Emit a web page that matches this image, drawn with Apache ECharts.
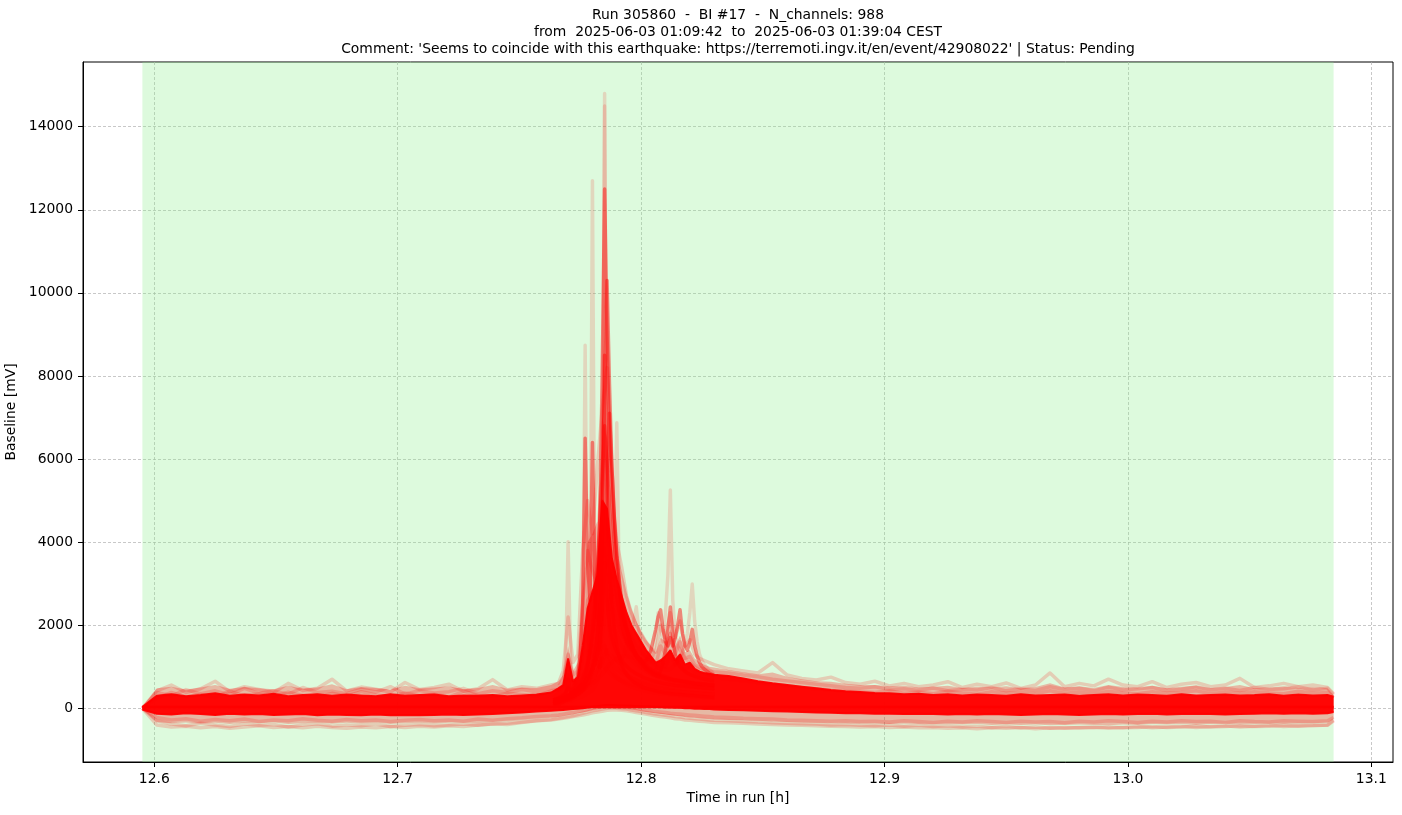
<!DOCTYPE html>
<html>
<head>
<meta charset="utf-8">
<title>Run 305860 - BI #17 - baseline</title>
<script src="https://cdn.jsdelivr.net/npm/echarts@6.0.0/dist/echarts.min.js"></script>
<style>
  html, body { margin: 0; padding: 0; background: #fff; }
  #chart { width: 1402px; height: 815px; }
</style>
</head>
<body>
<div id="chart"></div>
<script>
// time axis (hours in run) shared by the bulk band and the fringe channels
var hours = [
  12.5951, 12.601, 12.607, 12.613, 12.619, 12.625, 12.631, 12.637, 12.643, 12.649,
  12.655, 12.661, 12.667, 12.673, 12.679, 12.685, 12.691, 12.697, 12.703, 12.709,
  12.715, 12.721, 12.727, 12.733, 12.739, 12.745, 12.751, 12.757, 12.763,
  12.766, 12.768, 12.770, 12.772, 12.774, 12.776, 12.778, 12.780, 12.782, 12.784,
  12.786, 12.788, 12.790, 12.792, 12.794, 12.796, 12.798, 12.800, 12.802, 12.804,
  12.806, 12.808, 12.810, 12.812, 12.814, 12.816, 12.818, 12.820, 12.822, 12.824,
  12.826, 12.828, 12.830,
  12.836, 12.842, 12.848, 12.854, 12.860, 12.866, 12.872, 12.878, 12.884, 12.890,
  12.896, 12.902, 12.908, 12.914, 12.920, 12.926, 12.932, 12.938, 12.944, 12.950,
  12.956, 12.962, 12.968, 12.974, 12.980, 12.986, 12.992, 12.998, 13.004, 13.010,
  13.016, 13.022, 13.028, 13.034, 13.040, 13.046, 13.052, 13.058, 13.064, 13.070,
  13.076, 13.082, 13.0845
];

// fine time axis around the earthquake burst
var spikeHours = [
  12.764, 12.765, 12.766, 12.767, 12.768, 12.769, 12.770, 12.771, 12.772, 12.773,
  12.774, 12.775, 12.776, 12.777, 12.778, 12.779, 12.780, 12.781, 12.782, 12.783,
  12.784, 12.785, 12.786, 12.787, 12.788, 12.789, 12.790, 12.791, 12.792, 12.793,
  12.794, 12.795, 12.796, 12.797, 12.798, 12.799, 12.800, 12.801, 12.802, 12.803,
  12.804, 12.805, 12.806, 12.807, 12.808, 12.809, 12.810, 12.811, 12.812, 12.813,
  12.814, 12.815, 12.816, 12.817, 12.818, 12.819, 12.820, 12.821, 12.822, 12.823,
  12.824, 12.825, 12.826, 12.827, 12.828, 12.829, 12.830
];

// dense core of the 988 channels: lower / upper edge [mV]
var coreLow = [
  -30, -130, -150, -120, -140, -160, -130, -150, -140, -160,
  -150, -140, -170, -150, -160, -170, -150, -170, -160, -170,
  -160, -150, -160, -150, -140, -120, -100, -80, -60,
  -50, -40, -30, -20, -10, 0, 20, 40, 50, 70,
  80, 80, 70, 70, 60, 60, 50, 50, 40, 40,
  30, 30, 20, 20, 10, 10, 0, 0, -10, -10,
  -20, -20, -30,
  -40, -50, -60, -70, -80, -90, -100, -110, -120, -120,
  -130, -130, -140, -130, -140, -150, -140, -150, -140, -150,
  -160, -150, -140, -150, -160, -150, -140, -150, -140, -130,
  -150, -140, -130, -140, -150, -140, -130, -120, -130, -120,
  -130, -120, -90
];
var coreHigh = [
  30, 300, 340, 290, 320, 360, 300, 330, 310, 350,
  290, 320, 340, 300, 330, 310, 290, 340, 300, 320,
  330, 290, 310, 300, 320, 290, 310, 330, 380,
  480, 560, 1200, 650, 750, 1500, 2400, 2800, 3200, 5000,
  4800, 3600, 3100, 2700, 2300, 2000, 1800, 1600, 1400, 1250,
  1100, 1150, 1250, 1400, 1150, 1300, 1050, 1100, 950, 880,
  850, 830, 810,
  780, 720, 650, 600, 560, 520, 480, 440, 410, 390,
  370, 360, 340, 350, 320, 340, 310, 330, 320, 300,
  340, 310, 320, 330, 300, 320, 340, 310, 330, 320,
  300, 340, 310, 320, 330, 310, 320, 340, 300, 330,
  310, 320, 280
];

// light halo made by the less dense channels: outer edges [mV]
var haloHigh = [
  30, 480, 520, 450, 500, 560, 470, 510, 480, 460, 540,
  470, 500, 580, 460, 510, 490, 450, 540, 480, 500,
  530, 460, 490, 560, 470, 500, 490, 560,
  650, 800, 1500, 900, 1100, 2800, 4000, 4200, 4500, 7000,
  6500, 4800, 3800, 3300, 2800, 2400, 2100, 1850, 1650, 1500,
  1350, 1700, 1600, 1900, 1500, 1750, 1350, 1400, 1200, 1100,
  1050, 1000, 980,
  920, 870, 820, 860, 760, 700, 650, 640, 590, 560,
  560, 530, 540, 500, 520, 540, 490, 520, 500, 530,
  480, 510, 600, 500, 530, 490, 560, 510, 490, 540,
  480, 520, 540, 490, 510, 560, 480, 500, 530, 490,
  510, 480, 320
];
var haloLow = [
  -30, -330, -360, -340, -370, -350, -380, -350, -360, -340, -380,
  -360, -340, -370, -350, -370, -340, -380, -360, -350, -370,
  -350, -340, -360, -330, -320, -290, -260, -230,
  -210, -190, -170, -150, -120, -100, -70, -40, -20, 0,
  20, 20, 10, 0, -10, -30, -50, -70, -90, -110,
  -120, -140, -150, -170, -180, -190, -210, -220, -230, -240,
  -250, -260, -270,
  -280, -290, -300, -320, -330, -340, -350, -360, -360, -370,
  -370, -380, -370, -380, -390, -380, -390, -380, -400, -390,
  -400, -390, -410, -400, -390, -400, -410, -390, -400, -380,
  -390, -380, -400, -380, -370, -390, -380, -370, -380, -370,
  -360, -350, -250
];

// single channels at the outside of the halo
var fringeUp1 = [0,
  420, 560, 380, 470, 650, 400, 520, 450, 380, 600,
  430, 480, 700, 420, 510, 460, 390, 620, 450, 500,
  580, 410, 470, 690, 440, 520, 480, 560,
  600, 900, 2200, 1100, 1300, 3800, 5000, 4200, 5800, 7200,
  8200, 5200, 4000, 3400, 2700, 2300, 2000, 1800, 1600, 1450,
  1350, 2000, 1700, 2300, 1700, 2100, 1500, 1650, 1300, 1200,
  1150, 1100, 1050,
  950, 900, 850, 1100, 800, 720, 680, 750, 620, 580,
  650, 540, 600, 520, 560, 640, 500, 580, 520, 610,
  480, 560, 850, 520, 600, 540, 700, 560, 520, 640,
  500, 580, 620, 520, 560, 720, 500, 540, 600, 520,
  560, 500, 350
];
var fringeUp2 = [0,
  380, 300, 450, 350, 420, 330, 480, 360, 420, 340,
  500, 380, 410, 350, 460, 390, 520, 340, 430, 370,
  400, 480, 350, 420, 380, 450, 400, 470,
  520, 700, 1300, 800, 900, 2600, 3800, 3300, 3000, 5000,
  4500, 3000, 2500, 2200, 1900, 1700, 1500, 1350, 1250, 1150,
  1050, 1500, 1300, 1800, 1300, 1600, 1200, 1250, 1050, 980,
  940, 900, 880,
  850, 800, 760, 700, 660, 620, 580, 540, 500, 480,
  520, 450, 470, 430, 490, 420, 460, 440, 500, 420,
  470, 430, 520, 450, 480, 420, 510, 440, 470, 500,
  430, 460, 520, 440, 480, 430, 500, 450, 470, 520,
  440, 480, 320
];
var fringeUp3 = [0,
  250, 380, 280, 330, 260, 420, 300, 350, 280, 390,
  310, 270, 360, 290, 400, 320, 280, 370, 300, 340,
  270, 410, 310, 290, 360, 330, 300, 420,
  450, 520, 800, 600, 700, 1500, 2600, 2800, 2400, 4000,
  3500, 2600, 2100, 1800, 1600, 1400, 1250, 1150, 1050, 950,
  900, 1150, 1000, 1300, 1050, 1200, 950, 1000, 880, 820,
  780, 760, 740,
  700, 660, 620, 580, 540, 500, 470, 440, 420, 400,
  380, 420, 360, 390, 350, 410, 370, 340, 400, 360,
  380, 350, 420, 360, 390, 340, 410, 370, 350, 400,
  360, 380, 420, 350, 390, 360, 400, 370, 350, 410,
  360, 380, 260
];
var fringeLow1 = [0,
  -300, -380, -420, -360, -400, -440, -380, -410, -390, -450,
  -400, -370, -430, -400, -420, -380, -440, -410, -390, -420,
  -400, -380, -410, -370, -390, -340, -300, -270,
  -240, -220, -200, -180, -150, -120, -90, -60, -40, -20,
  0, 10, 0, -10, -20, -40, -60, -80, -100, -120,
  -140, -150, -170, -180, -200, -210, -230, -240, -250, -260,
  -270, -280, -290,
  -300, -320, -330, -350, -360, -370, -380, -400, -390, -410,
  -420, -400, -430, -410, -440, -420, -450, -430, -460, -440,
  -470, -450, -480, -460, -470, -450, -480, -460, -440, -470,
  -450, -430, -460, -440, -420, -450, -430, -410, -440, -420,
  -400, -410, -300
];
var fringeLow2 = [0,
  -220, -280, -250, -310, -270, -300, -260, -320, -280, -300,
  -250, -290, -310, -270, -300, -280, -320, -290, -270, -300,
  -280, -310, -260, -290, -250, -230, -200, -180,
  -160, -140, -120, -100, -80, -60, -40, -20, 0, 20,
  40, 40, 30, 20, 10, 0, -10, -30, -50, -60,
  -80, -90, -100, -120, -130, -140, -150, -160, -170, -180,
  -190, -200, -210,
  -220, -240, -250, -260, -280, -290, -300, -310, -300, -320,
  -310, -330, -300, -320, -340, -310, -330, -300, -320, -340,
  -310, -330, -320, -350, -310, -330, -300, -320, -340, -310,
  -330, -300, -320, -310, -340, -300, -320, -330, -300, -310,
  -320, -300, -220
];
var fringeLow3 = [0,
  -400, -450, -430, -470, -440, -480, -450, -420, -460, -440,
  -470, -430, -460, -480, -450, -470, -440, -460, -430, -450,
  -420, -440, -400, -380, -360, -330, -300, -280,
  -260, -240, -220, -200, -180, -160, -140, -110, -90, -70,
  -50, -40, -40, -50, -60, -80, -100, -120, -140, -160,
  -180, -200, -210, -230, -250, -260, -280, -290, -300, -310,
  -320, -330, -340,
  -350, -360, -380, -390, -400, -410, -420, -430, -440, -450,
  -440, -460, -450, -470, -460, -480, -470, -490, -470, -480,
  -460, -490, -470, -480, -460, -470, -450, -470, -460, -440,
  -460, -450, -430, -450, -440, -420, -440, -430, -410, -430,
  -420, -400, -280
];

// isolated channels with large excursions (on spikeHours)
var spikeA = [
  200, 220, 180, 240, 210, 260, 250, 280, 300, 320,
  350, 380, 420, 460, 500, 560, 650, 800, 1000, 1400,
  3500, 14800, 4200, 2600,
  2100, 1900, 1750, 1600, 1500, 1400, 1320, 1250, 1180, 1120,
  1060, 1010, 970, 930, 900, 870, 840, 810, 790, 770,
  750, 730, 710, 700, 690, 670, 660, 650, 640, 630,
  620, 610, 600, 590, 580, 575, 570, 560, 555, 550, 545, 540, 535
];
var spikeB = [
  100, 130, 90, 150, 120, 170, 160, 180, 200, 230,
  250, 270, 300, 330, 360, 400, 450, 520, 650, 900,
  2600, 14500, 3000, 1900,
  1500, 1300, 1150, 1050, 950, 880, 820, 770, 730, 700,
  670, 640, 610, 590, 570, 550, 530, 510, 500, 490,
  480, 470, 460, 450, 440, 430, 420, 410, 405, 400,
  395, 390, 385, 380, 375, 370, 365, 360, 355, 350, 345, 340, 335
];
var spikeC = [
  150, 170, 140, 190, 160, 200, 230, 210, 250, 280,
  320, 380, 450, 600, 900, 2000,
  12700,
  2500, 1600, 1400,
  1600, 1500, 1300, 1200, 1100, 1000, 950, 900, 860, 820,
  790, 760, 730, 700, 680, 660, 640, 620, 600, 590,
  580, 570, 560, 550, 540, 530, 520, 510, 500, 495,
  490, 485, 480, 475, 470, 465, 460, 455, 450, 445,
  440, 435, 430, 425, 420, 415, 410
];
var spikeD = [
  180, 200, 220, 190, 240, 260, 300, 280, 330, 360,
  450, 700, 1500,
  8740,
  1800, 1300, 1500, 1200, 1100, 1000,
  1200, 1000, 900, 850, 800, 760, 720, 690, 660, 640,
  620, 600, 580, 560, 545, 530, 515, 500, 490, 480,
  470, 460, 450, 440, 430, 425, 420, 415, 410, 405,
  400, 395, 390, 385, 380, 375, 370, 365, 360, 355,
  350, 345, 340, 335, 330, 325, 320
];
var spikeE = [
  250, 300, 350, 420, 600, 1100,
  4010,
  1200, 700, 600,
  550, 520, 500, 560, 600, 700, 900, 1200, 1100, 1000,
  1300, 1500, 1200, 1000, 900, 820, 760, 700, 650, 610,
  580, 550, 520, 500, 480, 460, 445, 430, 415, 400,
  390, 380, 370, 360, 350, 345, 340, 335, 330, 325,
  320, 315, 310, 305, 300, 295, 290, 285, 280, 275,
  270, 265, 260, 255, 250, 245, 240
];
var spikeF = [
  200, 230, 210, 250, 240, 270, 300, 320, 340, 380,
  420, 470, 520, 600, 700, 800, 950, 1100, 1300, 1500,
  1800, 2200, 2600, 2400, 2800, 3500,
  6875,
  3000, 2200, 1800,
  1600, 1450, 1350, 1250, 1150, 1080, 1020, 960, 910, 870,
  830, 800, 770, 740, 720, 700, 680, 660, 640, 625,
  610, 600, 590, 580, 570, 560, 550, 540, 530, 520,
  510, 500, 495, 490, 485, 480, 475
];
var spikeG = [
  150, 170, 160, 190, 200, 220, 250, 270, 300, 330,
  360, 400, 440, 480, 520, 560, 600, 650, 700, 760,
  820, 900, 980, 1050, 1100, 1150, 1200, 1220, 1240, 1250,
  1250, 1240, 1230, 1220, 1200, 1180, 1160, 1140, 1120, 1100,
  1150, 1300, 1700, 2300, 1900, 1600, 2300, 3200,
  5255,
  2600, 1800, 1500, 1400, 1300,
  1200, 1150, 1100, 1050, 1000, 960,
  920, 890, 860, 830, 800, 780, 760
];
var spikeH = [
  120, 150, 130, 160, 180, 200, 230, 260, 290, 320,
  360, 400, 450, 500, 560, 620, 700, 800, 900, 1000,
  1100, 1300, 1400, 1300, 1250, 1200, 1150, 1100, 1200, 1300,
  1500, 1700, 1900, 2100,
  2445,
  1900, 1500, 1300, 1200, 1150,
  1100, 1050, 1000, 980, 960, 940, 930, 920, 950, 1000,
  1050, 1100, 1200, 1350, 1500, 1800, 2300,
  2990,
  2100, 1600,
  1300, 1150, 1050, 980, 920, 880, 800
];

// many overlapping channels -> saturated red burst
var denseA = [
  150, 180, 200, 220, 250, 280, 320, 360, 400, 450,
  500, 560, 650, 800, 1000, 1300, 1700, 2200, 3000, 4500,
  8000, 12500, 9000, 6500,
  5000, 4000, 3300, 2800, 2400, 2100, 1900, 1700, 1550, 1420,
  1320, 1230, 1150, 1080, 1020, 970, 930, 890, 860, 830,
  800, 780, 760, 740, 720, 700, 690, 680, 670, 660,
  650, 640, 630, 620, 610, 600, 595, 590, 585, 580, 575, 570, 565
];
var denseB = [
  100, 130, 160, 190, 220, 250, 280, 310, 350, 400,
  450, 500, 560, 640, 750, 900, 1100, 1400, 1800, 2500,
  4000, 7500, 10300, 7800,
  5800, 4500, 3600, 3000, 2500, 2150, 1900, 1700, 1520, 1380,
  1270, 1180, 1100, 1030, 970, 920, 880, 840, 810, 780,
  760, 740, 720, 700, 690, 680, 670, 660, 650, 640,
  630, 620, 610, 600, 590, 585, 580, 575, 570, 565, 560, 555, 550
];
var denseC = [
  50, 80, 100, 120, 150, 180, 200, 230, 260, 300,
  340, 380, 430, 500, 600, 750, 950, 1200, 1600, 2300,
  4200, 8500, 5500, 3500,
  2500, 1900, 1500, 1250, 1050, 920, 820, 740, 680, 630,
  590, 560, 530, 500, 480, 460, 445, 430, 415, 400,
  390, 380, 370, 360, 350, 345, 340, 335, 330, 325,
  320, 315, 310, 305, 300, 295, 290, 285, 280, 275, 270, 265, 260
];
var denseD = [
  120, 140, 170, 200, 230, 260, 300, 340, 380, 420,
  470, 520, 580, 650, 730, 820, 950, 1100, 1300, 1600,
  2200, 3500, 5500, 7100, 5800, 4600, 3700, 3100, 2600, 2250,
  1950, 1720, 1530, 1380, 1260, 1160, 1080, 1010, 950, 900,
  860, 820, 790, 760, 900, 1100, 1400, 1900, 2440, 1700,
  1300, 1100, 1000, 940, 890, 850, 820, 790, 770, 750,
  730, 715, 700, 690, 680, 670, 660
];
var denseE = [
  200, 220, 250, 280, 320, 380, 500, 420, 480, 600,
  800, 1300, 2500, 6500, 3500, 2600, 6400, 3000, 2200, 2000,
  2500, 3500, 2600, 2000, 1700, 1500, 1350, 1250, 1150, 1080,
  1020, 960, 910, 870, 830, 800, 770, 740, 720, 700,
  680, 660, 645, 630, 615, 600, 590, 580, 570, 560,
  550, 545, 540, 535, 530, 525, 520, 515, 510, 505,
  500, 495, 490, 485, 480, 475, 470
];
var denseF = [
  180, 200, 230, 260, 300, 350, 700, 400, 450, 500,
  560, 640, 740, 900, 1100, 1400, 1900, 2600, 3400, 4500,
  5600, 6800, 5900, 4800, 3900, 3200, 2700, 2300, 2000, 1800,
  1650, 1520, 1420, 1340, 1270, 1210, 1160, 1120, 1150, 1250,
  1400, 1650, 1900, 2200, 2370, 1900, 1600, 1500, 1700, 1500,
  1700, 2000, 2370, 1800, 1500, 1400, 1600, 1900, 1500, 1250,
  1100, 1000, 940, 890, 850, 820, 790
];

// axes
var xTicks = [12.6, 12.7, 12.8, 12.9, 13.0, 13.1];
var yTicks = [0, 2000, 4000, 6000, 8000, 10000, 12000, 14000];
var xRange = [12.5707, 13.1089];
var yRange = [-1293, 15557];
var beamSpan = [12.5951, 13.0845];

var titleLines = [
  'Run 305860  -  BI #17  -  N_channels: 988',
  'from  2025-06-03 01:09:42  to  2025-06-03 01:39:04 CEST',
  "Comment: 'Seems to coincide with this earthquake: https://terremoti.ingv.it/en/event/42908022' | Status: Pending"
];

(function(window, echarts){
    'use strict';

    var FONT = 'DejaVu Sans';
    var RED = '#ff0000';

    function pairs(xs, ys) {
        return xs.map(function(x, i) { return [x, ys[i]]; });
    }

    function channel(name, xs, ys, width, opacity) {
        return {
            name: name,
            type: 'line',
            data: pairs(xs, ys),
            symbol: 'none',
            silent: true,
            z: 3,
            lineStyle: { color: RED, width: width, opacity: opacity, join: 'round' }
        };
    }

    // filled band edge, area closed towards a fixed level
    function band(name, values, origin, lineOpacity, fillOpacity, z) {
        return {
            name: name,
            type: 'line',
            data: pairs(hours, values),
            symbol: 'none',
            silent: true,
            z: z,
            lineStyle: { color: RED, width: lineOpacity ? 2 : 0, opacity: lineOpacity },
            areaStyle: { color: RED, opacity: fillOpacity, origin: origin }
        };
    }

    var series = [
        {
            name: 'beam',
            type: 'line',
            data: [],
            silent: true,
            markArea: {
                silent: true,
                itemStyle: { color: 'rgba(144,238,144,0.3)' },
                data: [[{ xAxis: beamSpan[0] }, { xAxis: beamSpan[1] }]]
            }
        },
        band('halo-high', haloHigh, 0, 0, 0.26, 2),
        band('halo-low', haloLow, 0, 0, 0.26, 2)
    ];

    [fringeUp1, fringeUp2, fringeUp3, fringeLow1, fringeLow2, fringeLow3].forEach(function(v, i) {
        series.push(channel('fringe' + i, hours, v, 3.5, 0.18));
    });
    series.push(band('core-high', coreHigh, 0, 0.95, 0.97, 3));
    series.push(band('core-low', coreLow, 60, 0.95, 0.97, 3));
    [spikeA, spikeB, spikeC, spikeD, spikeE, spikeF, spikeG, spikeH].forEach(function(v, i) {
        series.push(channel('spike' + i, spikeHours, v, 3.5, 0.14));
    });
    [denseA, denseB, denseC, denseD, denseE, denseF].forEach(function(v, i) {
        series.push(channel('dense' + i, spikeHours, v, 3.5, 0.45));
    });

    var labelStyle = { color: '#000', fontSize: 13.9, fontFamily: FONT, margin: 10 };
    var tickStyle = { show: true, inside: false, length: 5, lineStyle: { color: '#000', width: 1 } };
    var gridLine = { show: true, lineStyle: { color: '#b0b0b0', width: 0.7, type: [3, 2] } };

    var option = {
        animation: false,
        backgroundColor: '#fff',
        textStyle: { fontFamily: FONT },
        title: {
            text: titleLines.join('\n'),
            left: 738,
            top: 6.5,
            padding: 0,
            textAlign: 'center',
            textStyle: { fontSize: 13.9, fontWeight: 'normal', color: '#000', fontFamily: FONT, lineHeight: 17 }
        },
        grid: {
            left: 83, right: 9, top: 62, bottom: 53,
            outerBoundsMode: 'none',
            containLabel: false,
            show: true, borderColor: '#000', borderWidth: 1, backgroundColor: 'transparent'
        },
        xAxis: {
            type: 'value',
            min: xRange[0],
            max: xRange[1],
            splitNumber: 5,
            axisLine: { show: true, onZero: false, lineStyle: { color: '#000', width: 1 } },
            axisTick: Object.assign({ customValues: xTicks }, tickStyle),
            axisLabel: Object.assign({
                customValues: xTicks,
                formatter: function(v) { return v.toFixed(1); }
            }, labelStyle),
            splitLine: gridLine,
            name: 'Time in run [h]',
            nameLocation: 'middle',
            nameGap: 29,
            nameTextStyle: { color: '#000', fontSize: 13.9, fontFamily: FONT }
        },
        yAxis: {
            type: 'value',
            min: yRange[0],
            max: yRange[1],
            splitNumber: 8,
            axisLine: { show: true, onZero: false, lineStyle: { color: '#000', width: 1 } },
            axisTick: Object.assign({ customValues: yTicks }, tickStyle),
            axisLabel: Object.assign({
                customValues: yTicks,
                formatter: function(v) { return String(v); }
            }, labelStyle),
            splitLine: gridLine,
            name: 'Baseline [mV]',
            nameLocation: 'middle',
            nameGap: 54,
            nameTextStyle: { color: '#000', fontSize: 13.9, fontFamily: FONT }
        },
        series: series
    };

    var chart = echarts.init(document.getElementById('chart'), null, { renderer: 'canvas' });
    chart.setOption(option);

})(window, window.echarts);
</script>
</body>
</html>
